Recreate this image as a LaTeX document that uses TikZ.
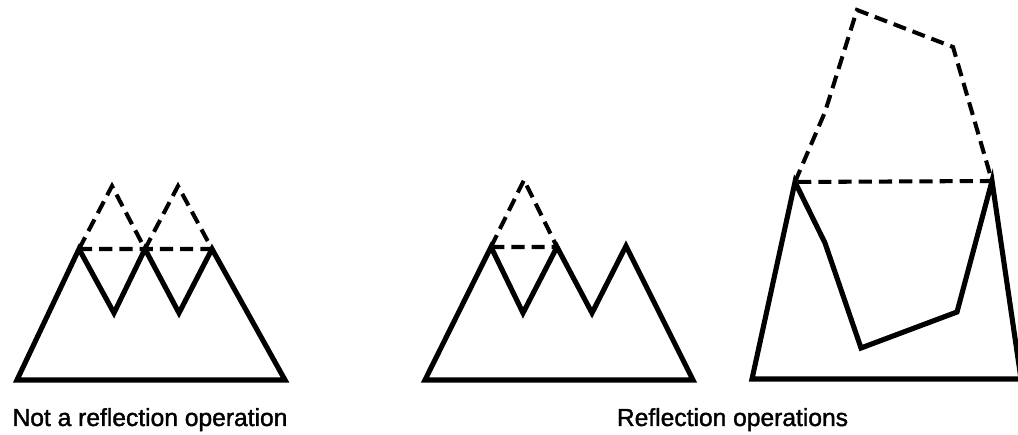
\documentclass[tikz,border=0pt]{standalone}
\usepackage{fontspec}
\setmainfont{Liberation Sans}[FakeBold=1.5]
\usepackage{tikz}

\begin{document}
\begin{tikzpicture}[every node/.style={font=\fontsize{14}{16}\selectfont}, outline/.style={line width=2.9pt, line join=miter}, mirrored/.style={line width=2.3pt, dash pattern=on 7.5pt off 4pt, line join=miter}]
	\useasboundingbox (0,0) rectangle (20.36,8.7);
	% not a reflection
	\draw[outline] (0.34,1.10) -- (1.58,3.72) -- (2.28,2.44) -- (2.90,3.72) -- (3.58,2.44) -- (4.24,3.72) -- (5.70,1.10) -- cycle;
	\draw[mirrored] (1.58,3.72) -- (2.24,4.98) -- (2.90,3.72) -- (3.56,4.98) -- (4.24,3.72) (1.58,3.72) -- (4.24,3.72);
	% reflection of one peak
	\draw[outline] (8.50,1.10) -- (9.82,3.76) -- (10.46,2.44) -- (11.14,3.76) -- (11.84,2.44) -- (12.52,3.78) -- (13.86,1.10) -- cycle;
	\draw[mirrored] (9.82,3.76) -- (10.48,5.10) -- (11.14,3.76) -- cycle;
	% reflection of a pentagon
	\draw[outline] (15.04,1.12) -- (15.90,5.06) -- (16.50,3.84) -- (17.22,1.74) -- (19.14,2.46) -- (19.84,5.08) -- (20.42,1.12) -- cycle;
	\draw[mirrored] (15.90,5.06) -- (16.50,6.46) -- (17.14,8.50) -- (19.06,7.76) -- (19.84,5.08) -- cycle;
	\node[anchor=base] (notrefl) at (3.00,0.18) {Not a reflection operation};
	\node[anchor=base] (refl) at (14.65,0.18) {Reflection operations};
\end{tikzpicture}
\end{document}
